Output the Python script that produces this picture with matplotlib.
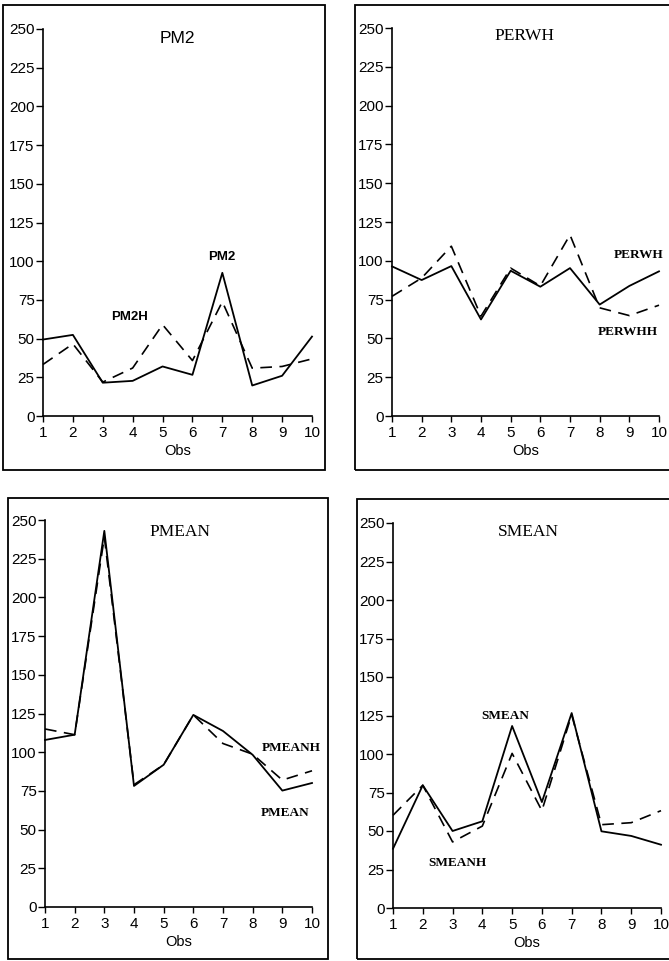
import matplotlib
matplotlib.use('Agg')
from matplotlib import pyplot as plt
from matplotlib.patches import Rectangle

# observations 1..10
obs = [1, 2, 3, 4, 5, 6, 7, 8, 9, 10]
yticks = [0, 25, 50, 75, 100, 125, 150, 175, 200, 225, 250]

pm2 = [49.4, 52.4, 21.5, 22.7, 32.0, 26.6, 92.5, 19.7, 26.0, 51.3]
pm2h = [33.3, 46.6, 21.9, 31.0, 59.0, 35.8, 73.8, 30.9, 32.0, 36.9]

perwh = [96.4, 87.6, 96.6, 62.2, 93.6, 83.3, 95.3, 71.8, 83.8, 93.2]
perwhh = [77.1, 88.9, 109.4, 64.3, 95.3, 83.8, 116.7, 69.7, 64.7, 71.4]

pmean = [107.9, 111.3, 243.0, 78.2, 91.9, 124.1, 113.7, 98.3, 75.2, 80.1]
pmeanh = [115.0, 111.3, 239.0, 79.0, 91.9, 124.1, 105.6, 98.7, 82.0, 88.0]

smean = [38.5, 79.7, 50.0, 56.3, 118.2, 68.8, 126.6, 49.8, 46.8, 41.1]
smeanh = [60.2, 79.7, 42.9, 53.2, 100.4, 63.2, 125.5, 54.1, 55.4, 63.2]

SANS = ['Liberation Sans', 'DejaVu Sans']
SERIF = ['Liberation Serif', 'DejaVu Serif']


def panel(fig, rect, frame, solid, dashed, title, tpos, labels, fam):
	ax = fig.add_axes(rect)
	ax.patch.set_alpha(0)
	ax.plot(obs, solid, color='black', lw=1.3, clip_on=False)
	ax.plot(obs, dashed, color='black', lw=1.2, dashes=(7, 4.5), clip_on=False)
	ax.set_xlim(1, 10)
	ax.set_ylim(0, 250)
	ax.set_xticks(obs)
	ax.set_yticks(yticks)
	ax.spines['top'].set_visible(False)
	ax.spines['right'].set_visible(False)
	ax.spines['left'].set_linewidth(1.2)
	ax.spines['bottom'].set_linewidth(1.2)
	ax.tick_params(axis='y', direction='out', length=5, width=1, pad=1, labelsize=11)
	ax.tick_params(axis='x', direction='out', length=4, width=1, pad=3, labelsize=11)
	for t in ax.get_xticklabels() + ax.get_yticklabels():
		t.set_family(SANS)
	ax.set_xlabel('Obs', family=SANS, fontsize=10.5, labelpad=3)
	ax.text(tpos[0], tpos[1], title, family=fam, fontsize=12.5, ha='center', va='center')
	for (x, y, s) in labels:
		ax.text(x, y, s, family=fam, fontsize=9.5, fontweight='bold', ha='center', va='center')
	fig.add_artist(Rectangle((frame[0], frame[1]), frame[2], frame[3], transform=fig.transFigure,
		fill=False, edgecolor='black', lw=1.3))
	return ax


def main():
	fig = plt.figure(figsize=(6.69, 9.61), dpi=100)
	W = 669.0
	H = 961.0

	panel(fig, [43/W, 1-416/H, 269/W, 387/H], (3/W, 1-470/H, 322/W, 465/H),
		pm2, pm2h, 'PM2', (5.48, 244),
		[(6.98, 103, 'PM2'), (3.88, 64, 'PM2H')], SANS)

	panel(fig, [392/W, 1-416/H, 267/W, 388/H], (355/W, 1-470/H, 320/W, 465/H),
		perwh, perwhh, 'PERWH', (5.48, 245),
		[(9.32, 104, 'PERWH'), (8.95, 54, 'PERWHH')], SERIF)

	panel(fig, [45/W, 1-907/H, 267/W, 387/H], (8/W, 1-959/H, 320/W, 461/H),
		pmean, pmeanh, 'PMEAN', (5.55, 242),
		[(9.29, 103, 'PMEANH'), (9.09, 61, 'PMEAN')], SERIF)

	panel(fig, [393/W, 1-908/H, 268/W, 385/H], (357/W, 1-959/H, 320/W, 460/H),
		smean, smeanh, 'SMEAN', (5.53, 244),
		[(4.76, 124.7, 'SMEAN'), (3.15, 29, 'SMEANH')], SERIF)

	fig.savefig('out.png', dpi=100)


if __name__ == '__main__':
	main()
